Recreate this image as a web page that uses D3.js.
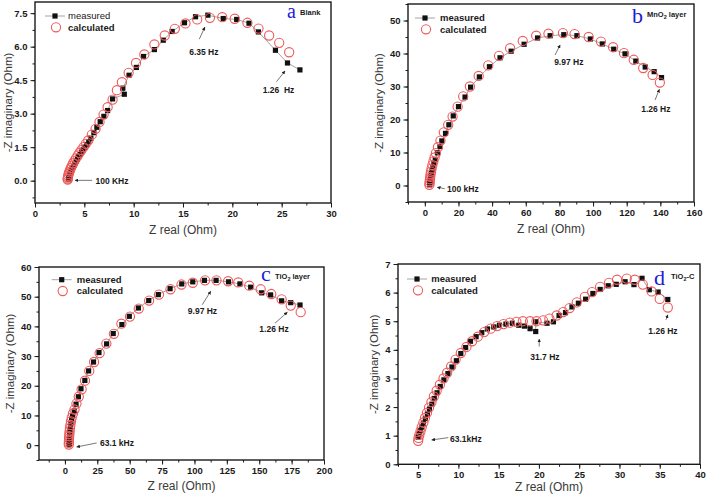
<!DOCTYPE html>
<html><head><meta charset="utf-8">
<script src="https://cdn.jsdelivr.net/npm/d3@7/dist/d3.min.js"></script>
<style>body{margin:0;background:#fff}text{font-family:"Liberation Sans",Arial,sans-serif}</style>
</head><body>
<svg id="chart" width="709" height="496"></svg>
<script>
// ---------- DATA ----------
const blankMeasured = [[3.39,0.05],[3.41,0.09],[3.44,0.14],[3.48,0.2],[3.53,0.27],[3.59,0.34],[3.66,0.42],[3.75,0.5],[3.84,0.59],[3.94,0.68],[4.05,0.77],[4.17,0.87],[4.3,0.97],[4.43,1.07],[4.57,1.17],[4.72,1.27],[4.88,1.38],[5.05,1.5],[5.25,1.62],[5.45,1.75],[5.66,1.9],[5.97,2.15],[6.27,2.39],[6.61,2.64],[6.98,2.88],[7.36,3.14],[7.86,3.66],[9.05,3.87],[8.9,4.14],[9.53,4.72],[10.27,5.07],[11.0,5.56],[12.1,5.87],[13.0,6.29],[13.9,6.68],[15.15,7.07],[16.27,7.34],[17.52,7.41],[19.08,7.26],[20.44,7.22],[21.69,7.05],[22.64,6.66],[24.37,5.84],[25.59,5.27],[26.85,4.96]];
const blankCalculated = [[3.31,0.05],[3.32,0.09],[3.34,0.15],[3.37,0.22],[3.41,0.3],[3.47,0.38],[3.54,0.47],[3.63,0.57],[3.74,0.67],[3.86,0.78],[4.0,0.89],[4.15,1.0],[4.32,1.12],[4.5,1.24],[4.7,1.37],[4.92,1.5],[5.15,1.65],[5.4,1.8],[5.76,2.06],[6.14,2.32],[6.54,2.63],[6.95,2.96],[7.36,3.29],[7.86,3.63],[8.3,4.05],[8.81,4.41],[9.49,4.83],[10.24,5.27],[11.08,5.65],[12.1,6.1],[13.15,6.5],[14.17,6.8],[15.25,7.04],[16.44,7.22],[17.73,7.29],[18.98,7.32],[20.24,7.25],[21.53,7.07],[22.65,6.81],[23.73,6.5],[24.75,6.17],[25.76,5.75]];

const mnoMeasured = [[2.9,0.4],[3.0,0.9],[3.2,1.5],[3.4,2.1],[3.6,2.8],[3.9,3.6],[4.3,4.5],[4.8,5.5],[5.4,6.6],[6.2,7.9],[7.5,9.9],[9.0,11.8],[10.1,13.5],[12.3,15.8],[14.3,18.4],[16.9,21.1],[20.0,23.9],[23.9,26.8],[27.2,29.8],[32.4,32.9],[38.4,36.0],[44.7,38.7],[51.3,40.7],[59.0,42.8],[67.0,44.7],[74.5,45.4],[82.6,45.7],[90.4,45.4],[98.4,44.4],[105.5,42.9],[112.3,41.3],[119.0,39.9],[125.4,37.7],[131.0,35.9],[136.3,34.5],[140.7,32.7]];
const mnoCalculated = [[2.7,0.2],[2.8,0.7],[2.9,1.3],[3.05,1.9],[3.2,2.6],[3.4,3.4],[3.7,4.2],[4.0,5.1],[4.5,6.2],[5.1,7.3],[5.8,8.5],[6.6,9.8],[7.8,11.6],[9.3,13.6],[11.3,16.1],[13.9,18.4],[16.5,20.9],[19.5,23.9],[22.8,27.0],[26.8,30.0],[32.0,33.2],[37.7,36.4],[44.1,39.3],[50.7,41.6],[58.2,43.8],[66.2,45.4],[73.5,46.0],[82.1,46.2],[89.0,45.9],[97.4,45.0],[104.7,43.6],[111.9,41.9],[118.4,40.1],[124.2,38.1],[129.8,35.6],[135.4,33.5],[139.7,31.2]];

const tioMeasured = [[3.3,0.2],[3.35,0.6],[3.4,1.3],[3.5,2.1],[3.6,3.0],[3.8,4.0],[4.0,5.0],[4.3,6.1],[4.7,7.3],[5.2,8.6],[5.9,9.9],[7.2,11.5],[8.6,13.8],[10.4,16.3],[12.4,19.0],[15.4,21.8],[18.3,25.0],[22.1,28.0],[26.3,31.2],[32.2,34.1],[37.3,37.6],[44.0,40.6],[49.7,43.4],[56.7,46.2],[64.7,48.7],[72.1,50.7],[81.2,52.7],[90.2,54.3],[98.7,55.0],[107.7,55.5],[116.7,55.5],[126.3,55.0],[135.1,54.3],[143.4,53.2],[151.9,51.3],[158.8,50.6],[167.3,48.6],[174.3,48.0],[181.5,47.2]];
const tioCalculated = [[3.0,0.2],[3.05,0.8],[3.1,1.5],[3.2,2.2],[3.3,3.0],[3.45,3.8],[3.65,4.7],[3.9,5.7],[4.25,6.8],[4.7,8.0],[5.3,9.3],[6.2,10.6],[7.4,12.0],[8.9,14.0],[10.7,16.3],[12.9,18.8],[15.5,21.7],[18.8,25.0],[22.5,28.0],[26.8,31.0],[32.0,34.2],[37.8,37.5],[43.6,40.9],[50.2,43.3],[57.0,46.0],[65.0,48.7],[72.6,50.7],[81.5,52.5],[90.0,54.1],[98.7,54.7],[108.2,55.5],[117.0,55.5],[126.0,55.2],[133.8,54.8],[142.3,53.7],[151.1,52.5],[159.3,50.9],[167.3,49.1],[174.3,47.0],[182.0,44.8]];

const tiocMeasured = [[5.0,0.95],[5.1,1.05],[5.25,1.17],[5.45,1.3],[5.65,1.44],[5.9,1.6],[6.15,1.76],[6.4,1.93],[6.7,2.1],[7.0,2.3],[7.35,2.5],[7.75,2.72],[8.2,2.95],[8.7,3.17],[9.2,3.4],[9.75,3.62],[10.3,3.87],[10.9,4.08],[11.5,4.3],[12.2,4.46],[12.9,4.6],[13.6,4.73],[14.4,4.8],[15.1,4.86],[15.9,4.9],[16.7,4.93],[17.5,4.86],[18.2,4.83],[18.9,4.74],[19.6,4.64],[19.6,4.98],[21.0,4.93],[21.8,4.98],[22.5,5.2],[23.3,5.3],[24.1,5.5],[24.9,5.63],[25.8,5.77],[26.7,5.97],[27.6,6.11],[28.6,6.24],[29.6,6.29],[30.7,6.38],[31.8,6.28],[32.8,6.5],[33.7,6.1],[34.8,6.02],[36.0,5.76]];
const tiocCalculated = [[5.0,0.82],[5.05,0.92],[5.15,1.03],[5.3,1.16],[5.45,1.3],[5.65,1.46],[5.85,1.62],[6.1,1.8],[6.35,1.98],[6.65,2.17],[6.95,2.37],[7.3,2.57],[7.7,2.78],[8.15,3.0],[8.6,3.2],[9.1,3.42],[9.65,3.66],[10.3,3.89],[11.0,4.1],[11.7,4.3],[12.4,4.46],[13.2,4.62],[14.0,4.74],[14.8,4.83],[15.6,4.9],[16.4,4.95],[17.2,4.98],[18.0,5.0],[18.9,5.0],[19.7,5.0],[20.5,5.03],[21.3,5.09],[22.2,5.2],[23.0,5.32],[23.8,5.46],[24.7,5.66],[25.7,5.85],[26.6,6.02],[27.6,6.2],[28.7,6.34],[29.7,6.45],[30.9,6.49],[31.9,6.45],[32.9,6.28],[34.0,6.04],[35.0,5.78],[36.0,5.48]];

const blankXTicks = [0,5,10,15,20,25,30];
const blankYTicks = [0,1.5,3,4.5,6,7.5];
const mnoXTicks = [0,20,40,60,80,100,120,140,160];
const mnoYTicks = [0,10,20,30,40,50];
const tioXTicks = [0,25,50,75,100,125,150,175,200];
const tioYTicks = [0,10,20,30,40,50,60];
const tiocXTicks = [5,10,15,20,25,30,35,40];
const tiocYTicks = [0,1,2,3,4,5,6,7];

const legendLabels = ["measured","calculated"];
const xTitle = "Z real (Ohm)";
const yTitle = "-Z imaginary (Ohm)";

// ---------- DRAW ----------
const svg = d3.select("#chart");
const defs = svg.append("defs");
defs.append("marker").attr("id","ah").attr("viewBox","0 0 10 10").attr("refX",9).attr("refY",5)
  .attr("markerWidth",4.5).attr("markerHeight",4.5).attr("orient","auto")
  .append("path").attr("d","M0,0L10,5L0,10z").attr("fill","#222");

const panels = [
 {meas:blankMeasured, calc:blankCalculated, xDom:[0,30], yDom:[-1,8], L:35,R:331,T:2,B:203,
  xT:blankXTicks, yT:blankYTicks, xMinor:2.5, yMinor:0.75, yFmt:d3.format(".1f"), ytx:8, xty:30.5, measWeight:"normal",
  leg:{x:10,y:14,tx:33}, letter:"a", lsize:20, lx:287, ly:18, sub:["Blank"], sx:300, sy:15,
  ann:[{t:"6.35 Hz",src:"meas",i:37,x1:-8.6,y1:24,x2:-3,y2:12,tx:-4,ty:40,a:"middle"},
       {t:"1.26  Hz",src:"meas",i:43,x1:-11,y1:18.7,x2:-2.5,y2:8,tx:-9,ty:30,a:"middle"},
       {t:"100 KHz",src:"meas",i:0,x1:23.6,y1:0.8,x2:6.6,y2:0.8,tx:27,ty:4.5,a:"start"}]},
 {meas:mnoMeasured, calc:mnoCalculated, xDom:[-10,160], yDom:[-5,55], L:408,R:694,T:4,B:202,
  xT:mnoXTicks, yT:mnoYTicks, xMinor:10, yMinor:5, yFmt:d3.format("d"), ytx:379, xty:30.5, measWeight:"bold",
  leg:{x:7,y:14,tx:32}, letter:"b", lsize:22, lx:632, ly:23, sub:["MnO","2"," layer"], sx:647, sy:17,
  ann:[{t:"9.97 Hz",src:"meas",i:26,x1:-8.7,y1:20.3,x2:-3.7,y2:10.3,tx:5,ty:30,a:"middle"},
       {t:"1.26 Hz",src:"calc",i:36,x1:-4.8,y1:17.5,x2:-0.5,y2:6.8,tx:-4,ty:29,a:"middle"},
       {t:"100 kHz",src:"meas",i:0,x1:15,y1:4.5,x2:7.6,y2:3.1,tx:17.3,ty:7.8,a:"start"}]},
 {meas:tioMeasured, calc:tioCalculated, xDom:[-20,200], yDom:[-5,60], L:39,R:324,T:267,B:460,
  xT:tioXTicks, yT:tioYTicks, xMinor:12.5, yMinor:5, yFmt:d3.format("d"), ytx:10, xty:30, measWeight:"bold",
  leg:{x:12.7,y:12.7,tx:37.7}, letter:"c", lsize:22, lx:261, ly:281, sub:["TiO","2"," layer"], sx:275, sy:279,
  ann:[{t:"9.97 Hz",src:"meas",i:30,x1:-13.8,y1:24.3,x2:-5.4,y2:10.9,tx:-13.6,ty:34,a:"middle"},
       {t:"1.26 Hz",src:"meas",i:37,x1:-15.7,y1:20.6,x2:-3.4,y2:9.6,tx:-16.7,ty:29,a:"middle"},
       {t:"63.1 kHz",src:"meas",i:0,x1:27.5,y1:-1.6,x2:7.5,y2:2.4,tx:30.8,ty:1.5,a:"start"}]},
 {meas:tiocMeasured, calc:tiocCalculated, xDom:[2.5,40], yDom:[0,7], L:398,R:700,T:264,B:464.3,
  xT:tiocXTicks, yT:tiocYTicks, xMinor:2.5, yMinor:0.5, yFmt:d3.format("d"), ytx:374, xty:27, measWeight:"bold",
  leg:{x:9,y:15,tx:33.3}, letter:"d", lsize:22, lx:654, ly:285, sub:["TiO","2","-C"], sx:671, sy:279,
  ann:[{t:"31.7 Hz",src:"meas",i:29,x1:3.5,y1:15,x2:3.5,y2:7.6,tx:9.2,ty:28.6,a:"middle"},
       {t:"1.26 Hz",src:"calc",i:46,x1:-1.8,y1:12.3,x2:0,y2:7.3,tx:-4.8,ty:26.6,a:"middle"},
       {t:"63.1kHz",src:"calc",i:0,x1:30.2,y1:-3.2,x2:13.6,y2:-0.9,tx:31.9,ty:1,a:"start"}]}
];

const INK = "#1a1a1a", RED = "#ef5a5a", GRAY = "#9a9a9a";

function drawSquare(sel, x, y, s) {
  sel.append("rect").attr("x",x-s/2).attr("y",y-s/2).attr("width",s).attr("height",s).attr("fill","#111");
}

panels.forEach(p => {
  const g = svg.append("g");
  const x = d3.scaleLinear().domain(p.xDom).range([p.L,p.R]);
  const y = d3.scaleLinear().domain(p.yDom).range([p.B,p.T]);
  const minorX = d3.range(Math.ceil(p.xDom[0]/p.xMinor)*p.xMinor, p.xDom[1]+1e-9, p.xMinor);
  const minorY = d3.range(Math.ceil(p.yDom[0]/p.yMinor)*p.yMinor, p.yDom[1]+1e-9, p.yMinor);

  const style = s => { s.select(".domain").remove(); s.selectAll("line").attr("stroke",INK).attr("stroke-width",1);
    s.selectAll("text").attr("fill",INK).style("font-size","9.5px").style("font-weight","bold"); };

  g.append("g").attr("transform",`translate(0,${p.B})`)
    .call(d3.axisBottom(x).tickValues(minorX).tickSize(2.5).tickFormat("")).call(style);
  g.append("g").attr("transform",`translate(0,${p.B})`)
    .call(d3.axisBottom(x).tickValues(p.xT).tickSize(4.5).tickPadding(2.5).tickFormat(d3.format("d"))).call(style);
  g.append("g").attr("transform",`translate(${p.L},0)`)
    .call(d3.axisLeft(y).tickValues(minorY).tickSize(2.5).tickFormat("")).call(style);
  g.append("g").attr("transform",`translate(${p.L},0)`)
    .call(d3.axisLeft(y).tickValues(p.yT).tickSize(4.5).tickPadding(3).tickFormat(p.yFmt)).call(style);

  g.append("rect").attr("x",p.L).attr("y",p.T).attr("width",p.R-p.L).attr("height",p.B-p.T)
    .attr("fill","none").attr("stroke",INK).attr("stroke-width",1.4);

  // titles
  g.append("text").attr("x",(p.L+p.R)/2).attr("y",p.B+p.xty).attr("text-anchor","middle")
    .attr("fill","#3a3a3a").style("font-size","12px").text(xTitle);
  g.append("text").attr("transform",`translate(${p.ytx},${(p.T+p.B)/2}) rotate(-90)`)
    .attr("text-anchor","middle").attr("dominant-baseline","central")
    .attr("fill","#3a3a3a").style("font-size","11.5px").text(yTitle);

  // measured line + squares
  const line = d3.line().x(d=>x(d[0])).y(d=>y(d[1]));
  g.append("path").attr("d",line(p.meas)).attr("fill","none").attr("stroke",GRAY).attr("stroke-width",0.9);
  const sq = g.append("g");
  p.meas.forEach(d => drawSquare(sq, x(d[0]), y(d[1]), 5.2));
  // calculated circles
  g.append("g").selectAll("circle").data(p.calc).join("circle")
    .attr("cx",d=>x(d[0])).attr("cy",d=>y(d[1])).attr("r",4.6)
    .attr("fill","none").attr("stroke",RED).attr("stroke-width",1.1);

  // legend
  const lg = g.append("g").attr("transform",`translate(${p.L+p.leg.x},${p.T+p.leg.y})`);
  lg.append("line").attr("x1",0).attr("x2",20).attr("y1",0).attr("y2",0).attr("stroke",GRAY).attr("stroke-width",0.9);
  drawSquare(lg, 10, 0, 5.2);
  lg.append("text").attr("x",p.leg.tx - p.leg.x).attr("y",3.4).attr("fill",INK)
    .style("font-size","9.5px").style("font-weight",p.measWeight).text(legendLabels[0]);
  lg.append("circle").attr("cx",11).attr("cy",11.3).attr("r",4.6).attr("fill","none").attr("stroke",RED).attr("stroke-width",1.1);
  lg.append("text").attr("x",p.leg.tx - p.leg.x).attr("y",14.7).attr("fill",INK)
    .style("font-size","9.5px").style("font-weight","bold").text(legendLabels[1]);

  // panel letter + label
  g.append("text").attr("x",p.lx).attr("y",p.ly).attr("fill","#1c1cd6")
    .style("font-family","'Liberation Serif','Times New Roman',serif").style("font-size",p.lsize+"px").text(p.letter);
  const st = g.append("text").attr("x",p.sx).attr("y",p.sy).attr("fill",INK)
    .style("font-size","7.5px").style("font-weight","bold");
  if (p.sub.length === 1) st.text(p.sub[0]);
  else {
    st.append("tspan").text(p.sub[0]);
    st.append("tspan").attr("dy",2).style("font-size","5.5px").text(p.sub[1]);
    st.append("tspan").attr("dy",-2).text(p.sub[2]);
  }

  // annotations
  p.ann.forEach(a => {
    const d = (a.src === "meas" ? p.meas : p.calc)[a.i];
    const ax = x(d[0]), ay = y(d[1]);
    g.append("line").attr("x1",ax+a.x1).attr("y1",ay+a.y1).attr("x2",ax+a.x2).attr("y2",ay+a.y2)
      .attr("stroke","#555").attr("stroke-width",0.8).attr("marker-end","url(#ah)");
    g.append("text").attr("x",ax+a.tx).attr("y",ay+a.ty).attr("text-anchor",a.a).attr("fill",INK)
      .style("font-size","8.5px").style("font-weight","bold").style("white-space","pre").text(a.t);
  });
});
</script>
</body></html>
